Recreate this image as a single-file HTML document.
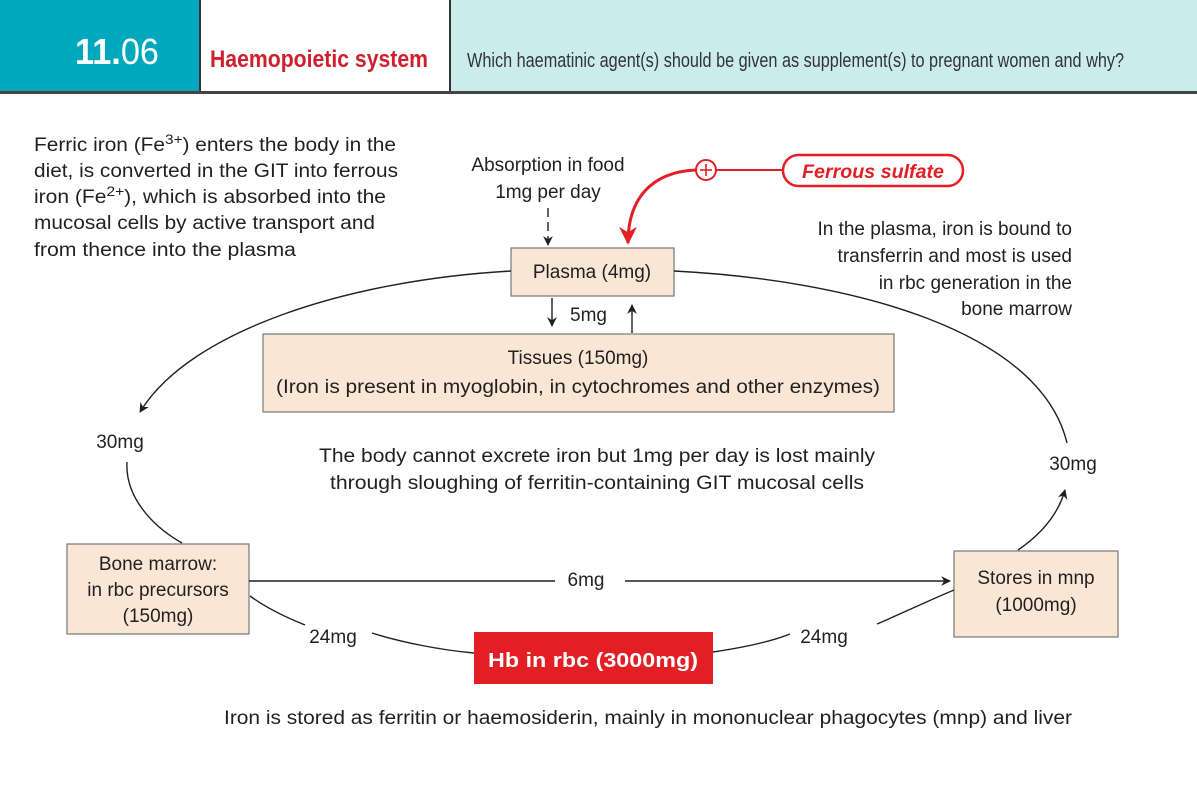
<!DOCTYPE html>
<html><head><meta charset="utf-8"><style>
html,body{margin:0;padding:0;background:#fff}
svg{display:block}
text{font-family:"Liberation Sans",sans-serif;fill:#231f20}
</style></head><body>
<svg width="1197" height="804" viewBox="0 0 1197 804" xmlns="http://www.w3.org/2000/svg">
<defs>
<marker id="ah" viewBox="0 0 10 10" refX="9" refY="5" markerWidth="7" markerHeight="7" orient="auto-start-reverse"><path d="M0,0 L10,5 L0,10 L3,5 z" fill="#231f20"/></marker>
<marker id="ahr" viewBox="0 0 10 10" refX="9" refY="5" markerWidth="6" markerHeight="6" orient="auto"><path d="M0,0 L10,5 L0,10 L3,5 z" fill="#e31e24"/></marker>
</defs>
<g>
<rect x="0" y="0" width="200" height="92" fill="#00a8be"/>
<rect x="200" y="0" width="250" height="92" fill="#fff"/>
<rect x="450" y="0" width="747" height="92" fill="#cbeced"/>
<line x1="200" y1="0" x2="200" y2="92" stroke="#333" stroke-width="2"/>
<line x1="450" y1="0" x2="450" y2="92" stroke="#333" stroke-width="2"/>
<rect x="0" y="91" width="1197" height="3" fill="#444"/>
<text x="75" y="64" font-size="36" style="fill:#fff" textLength="84" lengthAdjust="spacingAndGlyphs"><tspan font-weight="bold" style="fill:#fff">11.</tspan><tspan style="fill:#fff">06</tspan></text>
<text x="210" y="67" font-size="24" font-weight="bold" style="fill:#d0202e" textLength="218" lengthAdjust="spacingAndGlyphs">Haemopoietic system</text>
<text x="467" y="67" font-size="20" style="fill:#333" textLength="657" lengthAdjust="spacingAndGlyphs">Which haematinic agent(s) should be given as supplement(s) to pregnant women and why?</text>
</g>
<g font-size="19">
<text x="34" y="151" textLength="362" lengthAdjust="spacingAndGlyphs">Ferric iron (Fe<tspan dy="-7" font-size="14">3+</tspan><tspan dy="7">) enters the body in the</tspan></text>
<text x="34" y="177" textLength="364" lengthAdjust="spacingAndGlyphs">diet, is converted in the GIT into ferrous</text>
<text x="34" y="203" textLength="352" lengthAdjust="spacingAndGlyphs">iron (Fe<tspan dy="-7" font-size="14">2+</tspan><tspan dy="7">), which is absorbed into the</tspan></text>
<text x="34" y="229" textLength="341" lengthAdjust="spacingAndGlyphs">mucosal cells by active transport and</text>
<text x="34" y="256" textLength="262" lengthAdjust="spacingAndGlyphs">from thence into the plasma</text>
</g>
<g font-size="19" text-anchor="middle">
<text x="548" y="171">Absorption in food</text>
<text x="548" y="198">1mg per day</text>
</g>
<line x1="548" y1="208" x2="548" y2="245" stroke="#231f20" stroke-width="1.4" stroke-dasharray="9,5" marker-end="url(#ah)"/>
<g>
<path d="M696,170 C650,172 628,200 628,243" fill="none" stroke="#e31e24" stroke-width="3" marker-end="url(#ahr)"/>
<circle cx="706" cy="170" r="10" fill="#fff" stroke="#e31e24" stroke-width="2"/>
<line x1="700" y1="170" x2="712" y2="170" stroke="#e31e24" stroke-width="1.6"/>
<line x1="706" y1="164" x2="706" y2="176" stroke="#e31e24" stroke-width="1.6"/>
<line x1="716" y1="170" x2="783" y2="170" stroke="#e31e24" stroke-width="2"/>
<rect x="783" y="155" width="180" height="31" rx="15.5" fill="#fff" stroke="#e31e24" stroke-width="2.5"/>
<text x="873" y="178" text-anchor="middle" font-size="19" font-weight="bold" font-style="italic" style="fill:#e31e24" textLength="142" lengthAdjust="spacingAndGlyphs">Ferrous sulfate</text>
</g>
<g font-size="19" text-anchor="end">
<text x="1072" y="235">In the plasma, iron is bound to</text>
<text x="1072" y="262">transferrin and most is used</text>
<text x="1072" y="289">in rbc generation in the</text>
<text x="1072" y="315">bone marrow</text>
</g>
<g>
<rect x="511" y="248" width="163" height="48" fill="#f9e6d5" stroke="#777" stroke-width="1.2"/>
<text x="592" y="278" text-anchor="middle" font-size="19">Plasma (4mg)</text>
</g>
<line x1="552" y1="298" x2="552" y2="326" stroke="#231f20" stroke-width="1.4" marker-end="url(#ah)"/>
<line x1="632" y1="333" x2="632" y2="305" stroke="#231f20" stroke-width="1.4" marker-end="url(#ah)"/>
<text x="570" y="321" font-size="19">5mg</text>
<g>
<rect x="263" y="334" width="631" height="78" fill="#f9e6d5" stroke="#777" stroke-width="1.2"/>
<text x="578" y="364" text-anchor="middle" font-size="19">Tissues (150mg)</text>
<text x="578" y="393" text-anchor="middle" font-size="19" textLength="604" lengthAdjust="spacingAndGlyphs">(Iron is present in myoglobin, in cytochromes and other enzymes)</text>
</g>
<path d="M511,271 C350,280 190,330 140,412" fill="none" stroke="#231f20" stroke-width="1.4" marker-end="url(#ah)"/>
<path d="M674,271 C850,280 1040,330 1067,443" fill="none" stroke="#231f20" stroke-width="1.4"/>
<text x="120" y="448" text-anchor="middle" font-size="19">30mg</text>
<path d="M127,462 C125,495 150,525 182,543" fill="none" stroke="#231f20" stroke-width="1.4"/>
<text x="1073" y="470" text-anchor="middle" font-size="19">30mg</text>
<path d="M1018,550 C1040,535 1058,515 1065,490" fill="none" stroke="#231f20" stroke-width="1.4" marker-end="url(#ah)"/>
<g font-size="19" text-anchor="middle">
<text x="597" y="462" textLength="556" lengthAdjust="spacingAndGlyphs">The body cannot excrete iron but 1mg per day is lost mainly</text>
<text x="597" y="489" textLength="534" lengthAdjust="spacingAndGlyphs">through sloughing of ferritin-containing GIT mucosal cells</text>
</g>
<g>
<rect x="67" y="544" width="182" height="90" fill="#f9e6d5" stroke="#777" stroke-width="1.2"/>
<text x="158" y="570" text-anchor="middle" font-size="19">Bone marrow:</text>
<text x="158" y="596" text-anchor="middle" font-size="19">in rbc precursors</text>
<text x="158" y="622" text-anchor="middle" font-size="19">(150mg)</text>
</g>
<g>
<rect x="954" y="551" width="164" height="86" fill="#f9e6d5" stroke="#777" stroke-width="1.2"/>
<text x="1036" y="584" text-anchor="middle" font-size="19">Stores in  mnp</text>
<text x="1036" y="611" text-anchor="middle" font-size="19">(1000mg)</text>
</g>
<line x1="249" y1="581" x2="555" y2="581" stroke="#231f20" stroke-width="1.4"/>
<text x="586" y="586" text-anchor="middle" font-size="19">6mg</text>
<line x1="625" y1="581" x2="950" y2="581" stroke="#231f20" stroke-width="1.4" marker-end="url(#ah)"/>
<path d="M250,596 C265,607 285,617 305,625" fill="none" stroke="#231f20" stroke-width="1.4"/>
<text x="333" y="643" text-anchor="middle" font-size="19">24mg</text>
<path d="M372,633 C400,642 440,650 474,653" fill="none" stroke="#231f20" stroke-width="1.4"/>
<path d="M713,652 C740,648 770,642 790,634" fill="none" stroke="#231f20" stroke-width="1.4"/>
<text x="824" y="643" text-anchor="middle" font-size="19">24mg</text>
<path d="M877,624 C905,612 930,600 954,590" fill="none" stroke="#231f20" stroke-width="1.4"/>
<g>
<rect x="474" y="632" width="239" height="52" fill="#e31e24"/>
<text x="593" y="667" text-anchor="middle" font-size="20" font-weight="bold" style="fill:#fff" textLength="210" lengthAdjust="spacingAndGlyphs">Hb in rbc (3000mg)</text>
</g>
<text x="648" y="724" text-anchor="middle" font-size="19" textLength="848" lengthAdjust="spacingAndGlyphs">Iron is stored as ferritin or haemosiderin, mainly in mononuclear phagocytes (mnp) and liver</text>
</svg>
</body></html>
